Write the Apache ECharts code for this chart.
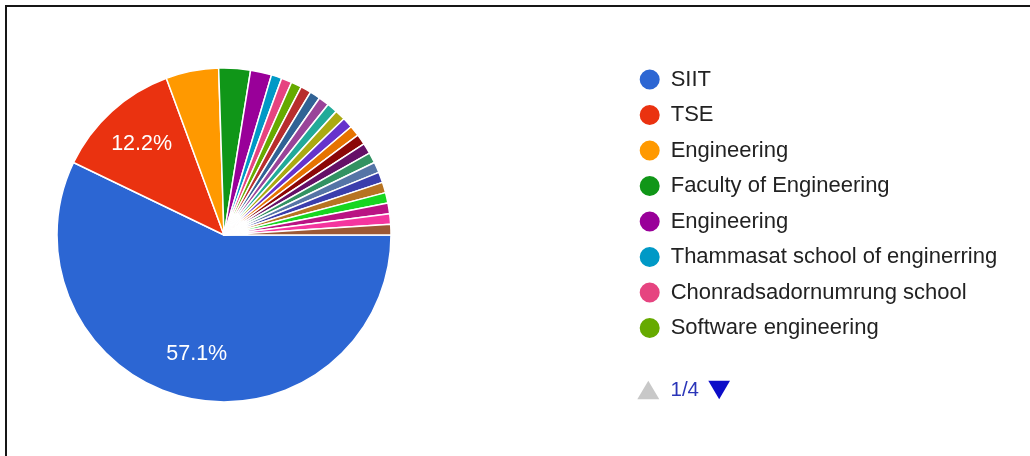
<!DOCTYPE html>
<html>
<head>
<meta charset="utf-8">
<script src="https://cdn.jsdelivr.net/npm/echarts@6/dist/echarts.min.js"></script>
<style>
  html, body { margin: 0; padding: 0; background: #fff; }
  .frame {
    position: absolute; left: 5px; top: 5px; right: 0; bottom: 0;
    border-top: 2px solid #161616; border-left: 2px solid #161616;
  }
  #chart { position: absolute; left: 0; top: 0; width: 1030px; height: 456px; }
</style>
</head>
<body>
<div class="frame"></div>
<div id="chart"></div>
<script>
// answers (legend page 1 of 4 shows the first eight)
var names = [
  'SIIT', 'TSE', 'Engineering', 'Faculty of Engineering', 'Engineering ',
  'Thammasat school of enginerring', 'Chonradsadornumrung school', 'Software engineering',
  'Response 9', 'Response 10', 'Response 11', 'Response 12', 'Response 13',
  'Response 14', 'Response 15', 'Response 16', 'Response 17', 'Response 18',
  'Response 19', 'Response 20', 'Response 21', 'Response 22', 'Response 23',
  'Response 24', 'Response 25'
];
var counts = [56, 12, 5, 3, 2, 1, 1, 1, 1, 1, 1, 1, 1, 1, 1, 1, 1, 1, 1, 1, 1, 1, 1, 1, 1];
var colors = [
  '#2c66d3', '#ea3210', '#ff9900', '#109618', '#990099', '#0099c6', '#e64480', '#66aa00',
  '#b82e2e', '#316395', '#994499', '#22aa99', '#aaaa11', '#6633cc', '#e67300', '#8b0707',
  '#651067', '#329262', '#5574a6', '#3b3eac', '#b77322', '#16d620', '#b91383', '#f4359e',
  '#9c5935'
];
var pageText = '1/4';

var total = counts.reduce(function (a, b) { return a + b; }, 0);
var pieData = names.map(function (n, i) {
  return { name: n, value: counts[i] };
});

var font = '"Liberation Sans", Arial, sans-serif';

var option = {
  color: colors,
  animation: false,
  legend: {
    orient: 'vertical',
    left: 632.7,
    top: 67.5,
    padding: [0, 5, 0, 5],
    data: names.slice(0, 8),
    icon: 'circle',
    itemWidth: 32,
    itemHeight: 22,
    itemGap: 11.5,
    selectedMode: false,
    textStyle: { fontSize: 22, color: '#222', fontFamily: font }
  },
  graphic: [
    { type: 'polygon', shape: { points: [[648.3, 380.7], [659.3, 399.3], [637.3, 399.3]] }, style: { fill: '#c8c8c8' } },
    { type: 'text', left: 670.5, top: 380, style: { text: pageText, fontSize: 20.5, fill: '#2a35b8', fontFamily: font } },
    { type: 'polygon', shape: { points: [[708.3, 380.7], [730, 380.7], [719.2, 399.3]] }, style: { fill: '#0c0cc8' } }
  ],
  series: [
    {
      type: 'pie',
      center: [224, 235],
      radius: 167,
      startAngle: 0,
      clockwise: true,
      data: pieData,
      label: { show: false },
      labelLine: { show: false },
      itemStyle: { borderColor: '#fff', borderWidth: 1.5 },
      emphasis: { disabled: true }
    },
    {
      // label layer: same data, labels sit further out than the plain 'inside' spot
      type: 'pie',
      center: [224, 235],
      radius: [72, 167],
      startAngle: 0,
      clockwise: true,
      silent: true,
      data: pieData,
      itemStyle: { color: 'rgba(0,0,0,0)', borderWidth: 0 },
      labelLine: { show: false },
      label: {
        show: true,
        position: 'inside',
        color: '#fff',
        fontSize: 21.5,
        fontFamily: font,
        formatter: function (p) {
          var pct = p.value / total * 100;
          return pct >= 10 ? pct.toFixed(1) + '%' : '';
        }
      },
      emphasis: { disabled: true }
    }
  ]
};

var myChart = echarts.init(document.getElementById('chart'));
myChart.setOption(option);
</script>
</body>
</html>
